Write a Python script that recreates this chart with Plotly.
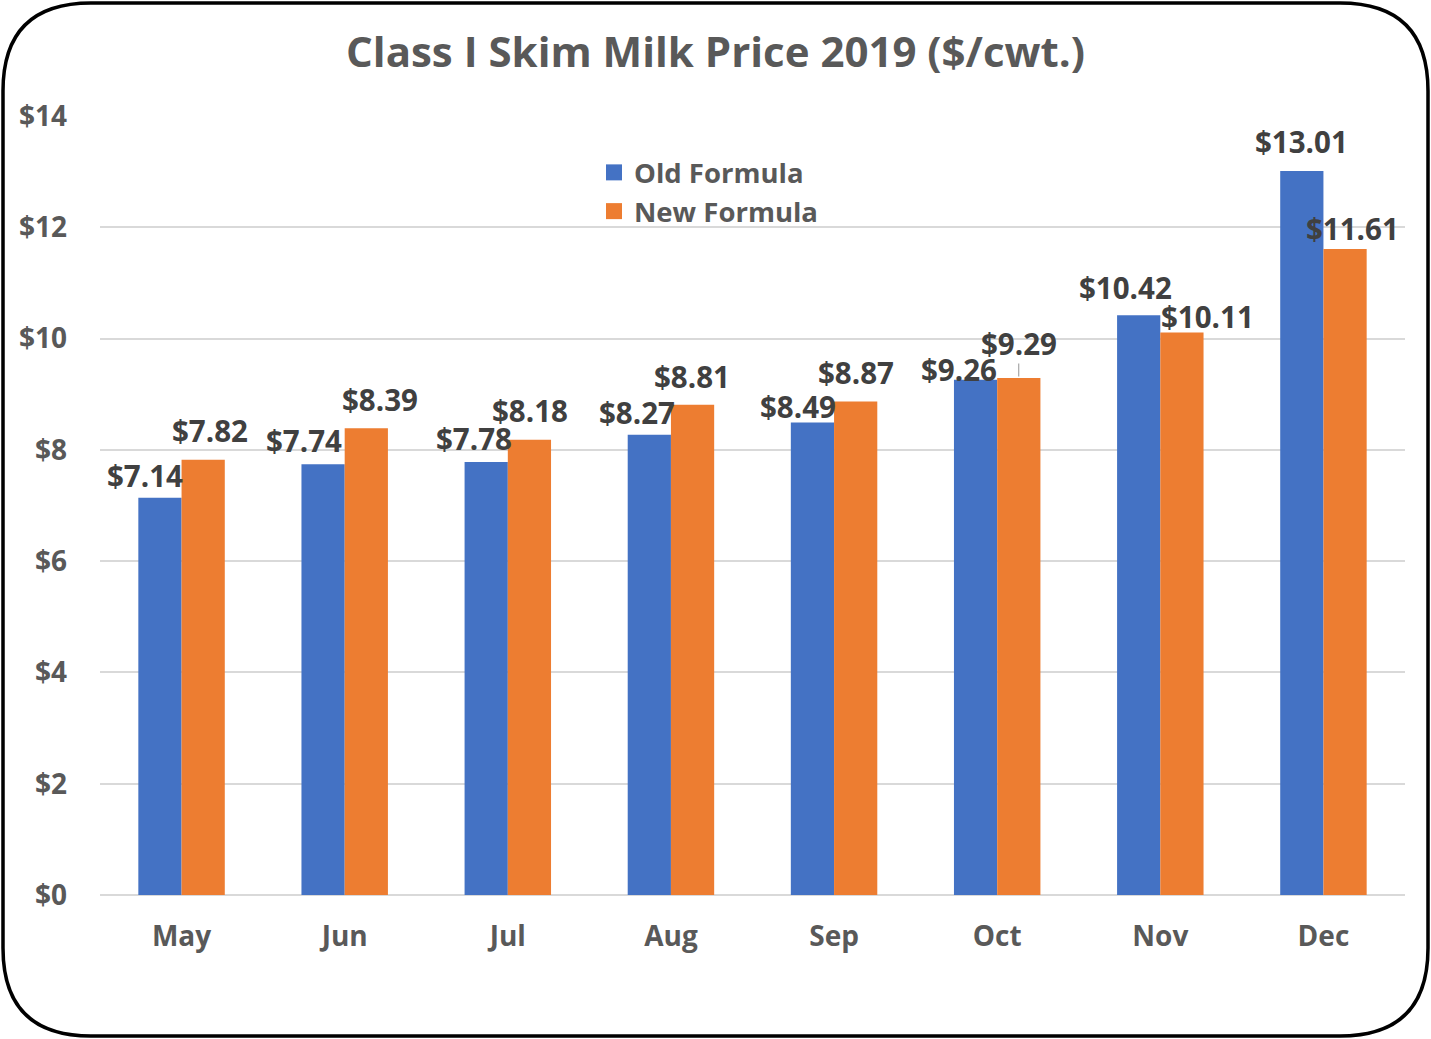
import plotly.graph_objects as go

months = ['May', 'Jun', 'Jul', 'Aug', 'Sep', 'Oct', 'Nov', 'Dec']
old_formula = [7.14, 7.74, 7.78, 8.27, 8.49, 9.26, 10.42, 13.01]
new_formula = [7.82, 8.39, 8.18, 8.81, 8.87, 9.29, 10.11, 11.61]
y_ticks = [0, 2, 4, 6, 8, 10, 12, 14]

# label nudges (px) relative to bar centre / bar top, mimicking Excel's placement
old_dx = [-15, -19, -12, -12, -15, -17, -13, 0]
old_dy = [22, 24, 24, 22, 16, 10, 28, 30]
new_dx = [7, 14, 1, 0, 0, 0, 26, 8]
new_dy = [29, 29, 29, 28, 29, 35, 16, 20]

W, H = 1431, 1039
L, R, T, B = 100, 26, 116, 144
BLUE = '#4472C4'
ORANGE = '#ED7D31'
FONT = 'Open Sans'

fig = go.Figure()
fig.add_trace(go.Bar(x=months, y=old_formula, name='Old Formula', showlegend=False,
                     marker=dict(color=BLUE, line=dict(width=0))))
fig.add_trace(go.Bar(x=months, y=new_formula, name='New Formula', showlegend=False,
                     marker=dict(color=ORANGE, line=dict(width=0))))
# legend entries with bigger square swatches
for name, color in [('Old Formula', BLUE), ('New Formula', ORANGE)]:
    fig.add_trace(go.Scatter(x=[None], y=[None], mode='markers', name=name,
                             marker=dict(symbol='square', size=17, color=color)))

half = 21.5  # half of one bar in px
annotations = []
for i, m in enumerate(months):
    annotations.append(dict(x=m, y=old_formula[i], xref='x', yref='y',
                            text=f"${old_formula[i]:.2f}", showarrow=False,
                            xshift=-half + old_dx[i], yshift=old_dy[i],
                            yanchor='middle',
                            font=dict(family=FONT, size=29.5, color='#404040', weight='bold')))
    annotations.append(dict(x=m, y=new_formula[i], xref='x', yref='y',
                            text=f"${new_formula[i]:.2f}", showarrow=False,
                            xshift=half + new_dx[i], yshift=new_dy[i],
                            yanchor='middle',
                            font=dict(family=FONT, size=29.5, color='#404040', weight='bold')))

# rounded outer border, in paper coordinates
def px(x):
    return (x - L) / (W - L - R)

def py(y):
    return (H - B - y) / (H - T - B)

x0, x1, y0, y1, rad = 3, 1428, 3, 1036, 88
path = (f"M {px(x0 + rad)},{py(y0)} L {px(x1 - rad)},{py(y0)} "
        f"Q {px(x1)},{py(y0)} {px(x1)},{py(y0 + rad)} "
        f"L {px(x1)},{py(y1 - rad)} "
        f"Q {px(x1)},{py(y1)} {px(x1 - rad)},{py(y1)} "
        f"L {px(x0 + rad)},{py(y1)} "
        f"Q {px(x0)},{py(y1)} {px(x0)},{py(y1 - rad)} "
        f"L {px(x0)},{py(y0 + rad)} "
        f"Q {px(x0)},{py(y0)} {px(x0 + rad)},{py(y0)} Z")

shapes = [dict(type='path', xref='paper', yref='paper', path=path,
               line=dict(color='black', width=3.5), layer='above')]
# leader line for the Oct new-formula label
shapes.append(dict(type='line', xref='x', yref='y', x0='Oct', x1='Oct',
                   x0shift=half / 163, x1shift=half / 163,
                   y0=new_formula[5] + 0.03, y1=new_formula[5] + 0.26,
                   line=dict(color='#a6a6a6', width=1.2)))

fig.update_layout(
    width=W, height=H,
    margin=dict(l=L, r=R, t=T, b=B),
    paper_bgcolor='white', plot_bgcolor='white',
    barmode='group', bargap=0.47, bargroupgap=0,
    title=dict(text='Class I Skim Milk Price 2019 ($/cwt.)', x=0.5, xanchor='center',
               y=1 - 52 / H, yanchor='middle',
               font=dict(family=FONT, size=42, color='#595959', weight='bold')),
    legend=dict(x=px(594), y=py(148), xanchor='left', yanchor='top',
                bgcolor='rgba(0,0,0,0)', tracegroupgap=0, itemsizing='trace',
                font=dict(family=FONT, size=27.5, color='#595959', weight='bold')),
    annotations=annotations,
    shapes=shapes,
    showlegend=True,
)
fig.update_xaxes(showgrid=False, showline=False, ticks='', ticklabelstandoff=22,
                 tickfont=dict(family=FONT, size=28, color='#595959', weight='bold'))
fig.update_yaxes(range=[0, 14], tickvals=y_ticks, ticktext=[f"${v}" for v in y_ticks],
                 showgrid=True, gridcolor='#d9d9d9', gridwidth=1.5, zeroline=True,
                 zerolinecolor='#d9d9d9', zerolinewidth=1.5, showline=False,
                 ticks='', ticklabelstandoff=32,
                 tickfont=dict(family=FONT, size=28, color='#595959', weight='bold'))

fig.write_html("out.html", config={'displayModeBar': False},
               post_script="document.body.style.margin='0';")
